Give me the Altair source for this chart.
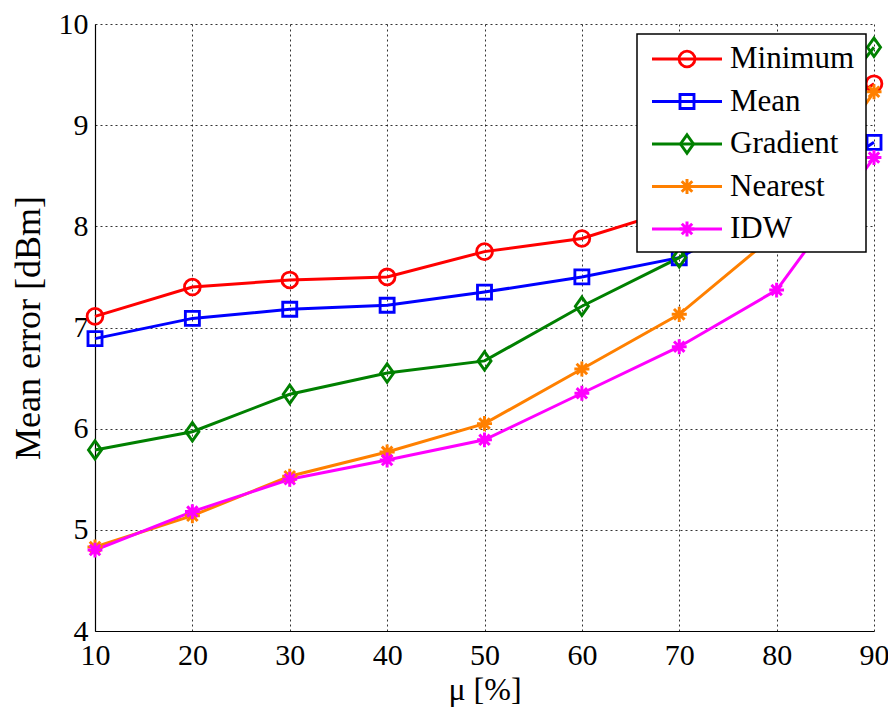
import altair as alt
import pandas as pd

mu = [10, 20, 30, 40, 50, 60, 70, 80, 90]
minimum = [7.11, 7.40, 7.47, 7.50, 7.75, 7.88, 8.18, 8.75, 9.41]
mean = [6.89, 7.09, 7.18, 7.22, 7.35, 7.50, 7.69, 8.20, 8.83]
gradient = [5.79, 5.97, 6.34, 6.55, 6.67, 7.21, 7.69, 8.55, 9.77]
nearest = [4.83, 5.14, 5.53, 5.77, 6.05, 6.59, 7.13, 7.93, 9.33]
idw = [4.80, 5.18, 5.50, 5.69, 5.89, 6.35, 6.81, 7.37, 8.68]

names = ["Minimum", "Mean", "Gradient", "Nearest", "IDW"]
colors = ["#ff0000", "#0000ff", "#008000", "#ff8000", "#ff00ff"]
shapes = [
    "circle",
    "M-0.9,-0.9L0.9,-0.9L0.9,0.9L-0.9,0.9Z",
    "M0,-1.2L0.85,0L0,1.2L-0.85,0Z",
    "M-1,0L1,0M0,-1L0,1M-0.7,-0.7L0.7,0.7M-0.7,0.7L0.7,-0.7",
    "M-1,0L1,0M0,-1L0,1M-0.7,-0.7L0.7,0.7M-0.7,0.7L0.7,-0.7",
]
stroke_widths = [2.8, 3.0, 3.0, 4.0, 3.0]
sizes = [250, 220, 240, 170, 120]

series = [minimum, mean, gradient, nearest, idw]
rows = []
for n, vals in zip(names, series):
    for m, v in zip(mu, vals):
        rows.append({"mu": m, "err": v, "name": n})
df = pd.DataFrame(rows)

FONT = "Liberation Serif"
W, H = 779, 607

color_scale = alt.Scale(domain=names, range=colors)
shape_scale = alt.Scale(domain=names, range=shapes)
sw_scale = alt.Scale(domain=names, range=stroke_widths)
size_scale = alt.Scale(domain=names, range=sizes)
xs = alt.Scale(domain=[10, 90], nice=False, zero=False)
ys = alt.Scale(domain=[4, 10], nice=False, zero=False)

x_axis = alt.Axis(values=mu, format="d", title="μ [%]", titleFontSize=32,
                  titlePadding=4, labelPadding=9, labelFlush=False,
                  labelFont=FONT, titleFont=FONT, labelFontSize=30,
                  titleFontWeight="normal", labelColor="black", titleColor="black")
y_axis = alt.Axis(values=[4, 5, 6, 7, 8, 9, 10], format="d", title="Mean error [dBm]",
                  titleFontSize=36, titlePadding=11, labelPadding=7, labelFlush=False,
                  labelFont=FONT, titleFont=FONT, labelFontSize=30,
                  titleFontWeight="normal", labelColor="black", titleColor="black")

lines = alt.Chart(df).mark_line(strokeWidth=3).encode(
    x=alt.X("mu:Q", scale=xs, axis=x_axis),
    y=alt.Y("err:Q", scale=ys, axis=y_axis),
    color=alt.Color("name:N", scale=color_scale, legend=None),
    detail="name:N",
)
points = alt.Chart(df).mark_point(filled=False, opacity=1).encode(
    x=alt.X("mu:Q", scale=xs, axis=x_axis),
    y=alt.Y("err:Q", scale=ys, axis=y_axis),
    color=alt.Color("name:N", scale=color_scale, legend=None),
    shape=alt.Shape("name:N", scale=shape_scale, legend=None),
    strokeWidth=alt.StrokeWidth("name:N", scale=sw_scale, legend=None),
    size=alt.Size("name:N", scale=size_scale, legend=None),
)

# legend (drawn in plot pixel space)
leg_df = pd.DataFrame({"name": names})
leg_df["ly"] = [35 + i * 42.5 for i in range(len(names))]

box = alt.Chart(leg_df).transform_filter("datum.name == 'Minimum'").mark_rect(
    fill="white", stroke="black", strokeWidth=1.5
).encode(
    x=alt.value(542), x2=alt.value(771), y=alt.value(10), y2=alt.value(228)
)
leg_lines = alt.Chart(leg_df).mark_rule(strokeWidth=3).encode(
    x=alt.value(557), x2=alt.value(627),
    y=alt.Y("ly:Q", scale=None, axis=None),
    color=alt.Color("name:N", scale=color_scale, legend=None),
)
leg_pts = alt.Chart(leg_df).mark_point(filled=False, opacity=1).encode(
    x=alt.value(592),
    y=alt.Y("ly:Q", scale=None, axis=None),
    color=alt.Color("name:N", scale=color_scale, legend=None),
    shape=alt.Shape("name:N", scale=shape_scale, legend=None),
    strokeWidth=alt.StrokeWidth("name:N", scale=sw_scale, legend=None),
    size=alt.Size("name:N", scale=size_scale, legend=None),
)
leg_text = alt.Chart(leg_df).mark_text(
    align="left", baseline="middle", fontSize=31, color="black", font=FONT
).encode(
    x=alt.value(635),
    y=alt.Y("ly:Q", scale=None, axis=None),
    text="name:N",
)

main = alt.layer(lines, points)
leg = alt.layer(box, leg_lines, leg_pts, leg_text)

chart = alt.layer(main, leg).resolve_scale(
    y="independent"
).properties(
    width=W, height=H,
    autosize=alt.AutoSizeParams(type="none"),
    padding={"left": 87, "top": 16, "right": 14, "bottom": 78},
    background="white",
).configure(font=FONT).configure_view(stroke=None).configure_axis(
    labelFont=FONT, titleFont=FONT,
    domainColor="black", domainWidth=1.2,
    grid=True, gridColor="black", gridDash=[2, 3], gridOpacity=0.8, gridWidth=1,
    ticks=False,
).configure_text(font=FONT)

chart.save("out.html", embed_options={"renderer": "svg", "actions": False})
